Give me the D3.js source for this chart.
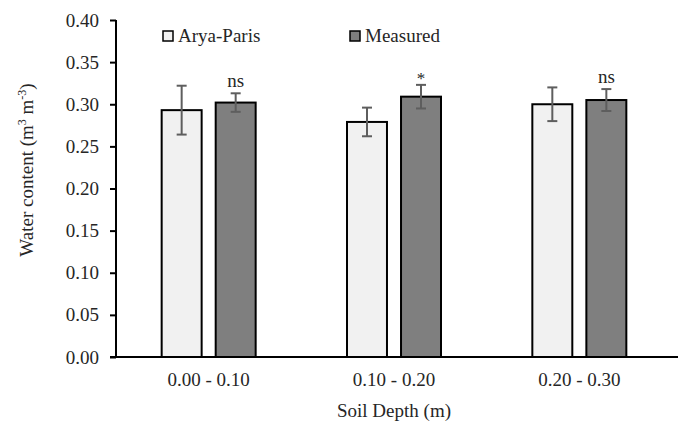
<!DOCTYPE html>
<html>
<head>
<meta charset="utf-8">
<script src="https://cdn.jsdelivr.net/npm/d3@7"></script>
<style>
  body { margin: 0; background: #fff; }
</style>
</head>
<body>
<svg id="chart" width="678" height="425"></svg>
<script>
// chart data
const depths = ["0.00 - 0.10", "0.10 - 0.20", "0.20 - 0.30"];
const seriesNames = ["Arya-Paris", "Measured"];
const aryaParis = [0.293, 0.279, 0.300];
const measured = [0.302, 0.309, 0.305];
const aryaErr = [0.029, 0.017, 0.020];
const measuredErr = [0.011, 0.014, 0.013];
const signif = ["ns", "*", "ns"];
const yTicks = [0, 0.05, 0.10, 0.15, 0.20, 0.25, 0.30, 0.35, 0.40];

const colors = { "Arya-Paris": "#f1f1f1", "Measured": "#7f7f7f" };
const FONT = "'Liberation Serif', 'Times New Roman', serif";
const textColor = "#262626";

const margin = { top: 20, right: 6, bottom: 68, left: 116 };
const width = 678, height = 425;

const svg = d3.select("#chart")
  .style("font-family", FONT);

const x = d3.scaleBand()
  .domain(depths)
  .range([margin.left, width - margin.right])
  .paddingInner(0)
  .paddingOuter(0);

const sub = d3.scaleBand()
  .domain(seriesNames)
  .range([0, 94])
  .paddingInner(0.26);

const y = d3.scaleLinear()
  .domain([0, 0.40])
  .range([height - margin.bottom, margin.top]);

const rows = depths.map((d, i) => ({
  depth: d,
  values: [
    { name: "Arya-Paris", value: aryaParis[i], err: aryaErr[i] },
    { name: "Measured", value: measured[i], err: measuredErr[i] }
  ],
  label: signif[i]
}));

// bars
const groups = svg.append("g")
  .selectAll("g")
  .data(rows)
  .enter().append("g")
  .attr("transform", (d) => `translate(${x(d.depth) + x.bandwidth() / 2 - 47},0)`);

groups.selectAll("rect")
  .data((d) => d.values)
  .enter().append("rect")
  .attr("x", (d) => sub(d.name))
  .attr("y", (d) => y(d.value))
  .attr("width", sub.bandwidth())
  .attr("height", (d) => y(0) - y(d.value))
  .style("fill", (d) => colors[d.name])
  .style("stroke", "#000")
  .style("stroke-width", 2);

// error bars
const err = groups.selectAll("g.err")
  .data((d) => d.values)
  .enter().append("g")
  .attr("class", "err")
  .style("stroke", "#5e5e5e")
  .style("stroke-width", 2);

err.append("line")
  .attr("x1", (d) => sub(d.name) + sub.bandwidth() / 2)
  .attr("x2", (d) => sub(d.name) + sub.bandwidth() / 2)
  .attr("y1", (d) => y(d.value + d.err))
  .attr("y2", (d) => y(d.value - d.err));

[1, -1].forEach((s) => {
  err.append("line")
    .attr("x1", (d) => sub(d.name) + sub.bandwidth() / 2 - 5)
    .attr("x2", (d) => sub(d.name) + sub.bandwidth() / 2 + 5)
    .attr("y1", (d) => y(d.value + s * d.err))
    .attr("y2", (d) => y(d.value + s * d.err));
});

// significance labels above the measured bars
groups.append("text")
  .attr("x", sub("Measured") + sub.bandwidth() / 2)
  .attr("y", (d) => d.label === "*" ? y(d.values[1].value + d.values[1].err) - 1 : y(d.values[1].value + d.values[1].err) - 6)
  .attr("text-anchor", "middle")
  .style("font-family", FONT)
  .style("font-size", (d) => d.label === "*" ? "17px" : "19px")
  .style("fill", textColor)
  .text((d) => d.label);

// y axis
const yAxis = svg.append("g")
  .attr("transform", `translate(${margin.left},0)`)
  .call(d3.axisLeft(y).tickValues(yTicks).tickFormat(d3.format(".2f")).tickSize(6).tickPadding(11));
yAxis.attr("font-family", null).attr("font-size", null);
yAxis.select(".domain").attr("d", `M0,${y(0.40)}V${y(0)}`).style("stroke", "#000").style("stroke-width", 2);
yAxis.selectAll(".tick line").style("stroke", "#000").style("stroke-width", 2);
yAxis.selectAll(".tick text")
  .style("font-family", FONT)
  .style("font-size", "19px")
  .style("fill", textColor);

// x axis
const xAxis = svg.append("g")
  .attr("transform", `translate(0,${y(0)})`)
  .call(d3.axisBottom(x).tickSize(0).tickPadding(16));
xAxis.attr("font-family", null).attr("font-size", null);
xAxis.select(".domain").attr("d", `M${margin.left - 6},0H${width}`).style("stroke", "#000").style("stroke-width", 2);
xAxis.selectAll(".tick text")
  .style("font-family", FONT)
  .style("font-size", "19px")
  .style("fill", textColor);

// axis titles
svg.append("text")
  .attr("x", x(depths[1]) + x.bandwidth() / 2)
  .attr("y", 417)
  .attr("text-anchor", "middle")
  .style("font-family", FONT)
  .style("font-size", "19px")
  .style("fill", textColor)
  .text("Soil Depth (m)");

const yTitle = svg.append("text")
  .attr("transform", "translate(33,170) rotate(-90)")
  .attr("text-anchor", "middle")
  .style("font-family", FONT)
  .style("font-size", "19px")
  .style("fill", textColor);
yTitle.append("tspan").text("Water content (m");
yTitle.append("tspan").attr("dy", -7).style("font-size", "12px").text("3");
yTitle.append("tspan").attr("dy", 7).text(" m");
yTitle.append("tspan").attr("dy", -7).style("font-size", "12px").text("-3");
yTitle.append("tspan").attr("dy", 7).text(")");

// legend
const legendX = [163, 350];
const legend = svg.append("g")
  .selectAll("g")
  .data(seriesNames)
  .enter().append("g")
  .attr("transform", (d, i) => `translate(${legendX[i]},31)`);
legend.append("rect")
  .attr("width", 10)
  .attr("height", 10)
  .style("fill", (d) => colors[d])
  .style("stroke", "#000")
  .style("stroke-width", 1.5);
legend.append("text")
  .attr("x", 15)
  .attr("y", 11)
  .style("font-family", FONT)
  .style("font-size", "19px")
  .style("fill", textColor)
  .text((d) => d);
</script>
</body>
</html>
